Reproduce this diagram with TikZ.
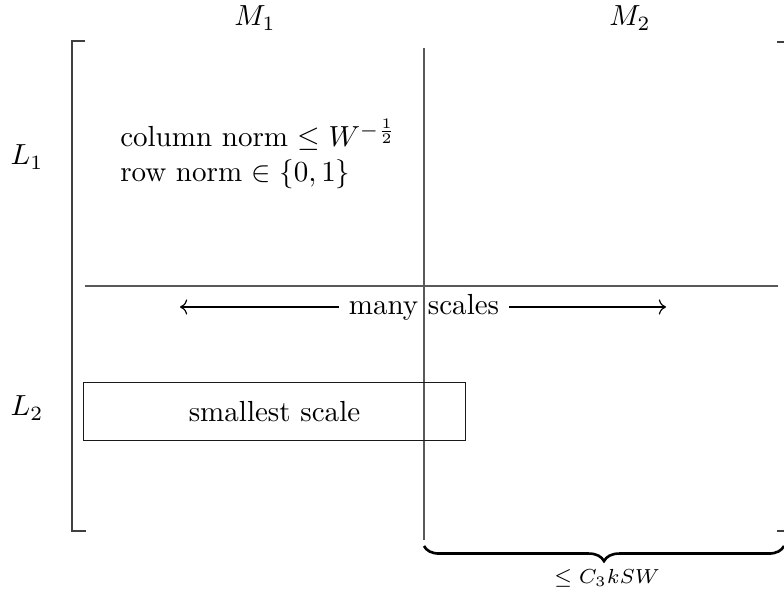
\documentclass[tikz,border=0pt]{standalone}
\usepackage{amsmath}
\usepackage{amssymb}
\usepackage{tikz}
\usetikzlibrary{
  arrows.meta, positioning, calc,
  decorations.pathreplacing
}
\tikzset{
  bracketline/.style={draw=black!75, line width=0.7pt},
  divider/.style={draw=black!65, line width=0.4pt},
  scalebox/.style={
    rectangle, draw=black!90, line width=0.45pt,
    minimum width=4.63cm, minimum height=0.71cm,
    align=center
  },
  tag/.style={inner sep=3.33pt},
  arrow/.style={->, line width=0.4pt},
  bracebar/.style={
    decorate, decoration={brace, mirror, amplitude=5.2pt},
    line width=0.9pt
  }
}

\begin{document}
\begin{tikzpicture}[x=0.0121cm, y=-0.0121cm]
  \useasboundingbox (0,0) rectangle (784,594);

  % column and row labels
  \node[tag] (m1) at (255,18) {$M_1$};
  \node[tag] (m2) at (630,18) {$M_2$};
  \node[tag] (l1) at (27,157) {$L_1$};
  \node[tag] (l2) at (27,408) {$L_2$};

  % matrix brackets
  \coordinate (ltop) at (85,41);
  \coordinate (lcorner) at (72,41);
  \coordinate (lfoot) at (72,531);
  \coordinate (lbot) at (86,531);
  \draw[bracketline] (ltop) -- (lcorner) -- (lfoot) -- (lbot);
  \coordinate (rtop) at (777,42);
  \coordinate (rcorner) at (786,42);
  \coordinate (rfoot) at (786,531);
  \coordinate (rbot) at (777,531);
  \draw[bracketline] (rtop) -- (rcorner) -- (rfoot) -- (rbot);

  % block dividers
  \coordinate (vtop) at (424,48);
  \coordinate (vbot) at (424,540);
  \coordinate (hleft) at (85,286);
  \coordinate (hright) at (778,286);
  \draw[divider] (vtop) -- (vbot);
  \draw[divider] (hleft) -- (hright);

  % block texts
  \node[tag, anchor=west, align=left] (norms) at (110,154)
    {column norm $\le W^{-\frac{1}{2}}$\\row norm $\in \{0,1\}$};
  \node[tag] (scales) at (424,307) {many scales};
  \coordinate (aleft) at (180,307);
  \coordinate (aright) at (666,307);
  \draw[arrow] (scales.west) -- (aleft);
  \draw[arrow] (scales.east) -- (aright);
  \node[scalebox] (small) at (274.5,411.5) {smallest scale};

  % width brace
  \coordinate (bleft) at (424,546);
  \coordinate (bright) at (784,546);
  \draw[bracebar] (bleft) -- (bright);
  \node[tag, font=\scriptsize] (bound) at (607,578) {$\le C_3kSW$};
\end{tikzpicture}
\end{document}
